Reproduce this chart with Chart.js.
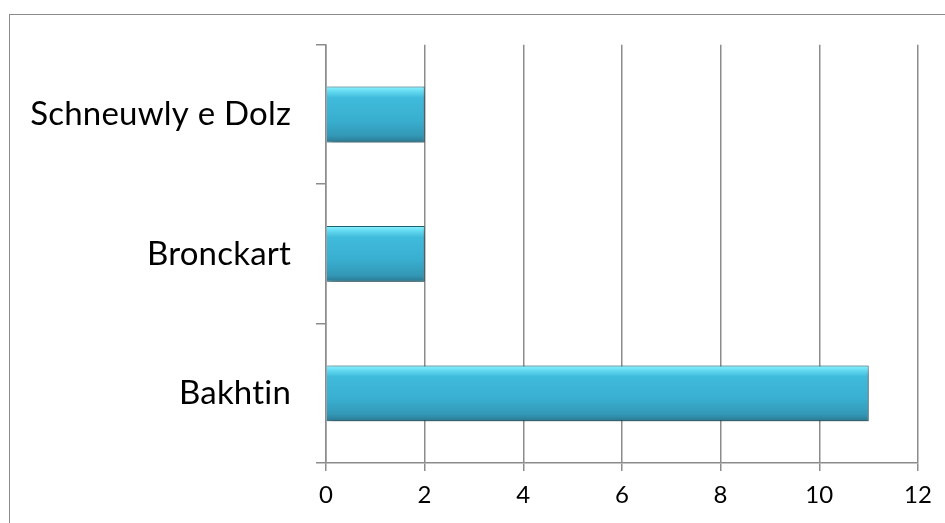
<!DOCTYPE html>
<html>
<head>
<meta charset="utf-8">
<script src="https://cdn.jsdelivr.net/npm/chart.js@4"></script>
<style>
  html, body { margin: 0; padding: 0; background: #fff; }
  #wrap { position: relative; width: 945px; height: 523px; overflow: hidden; }
  /* cadre du graphique, coupé à droite et en bas comme sur l'original */
  #frame { position: absolute; left: 9px; top: 14px; width: 1000px; height: 600px;
           border: 1.5px solid #8a8a8a; box-sizing: border-box; }
  canvas { position: absolute; left: 0; top: 0; }
</style>
</head>
<body>
<div id="wrap">
  <div id="frame"></div>
  <canvas id="barChart" width="945" height="523"></canvas>
</div>
<script>
/* ------------------------------------------------------------
   Données
------------------------------------------------------------ */
const categories = ['Schneuwly e Dolz', 'Bronckart', 'Bakhtin'];
const values     = [2, 2, 11];
const xTicks     = [0, 2, 4, 6, 8, 10, 12];

const GRID = '#8c8c8c';
const FONT = 'Lato, "Open Sans", sans-serif';

/* dégradé vertical par barre (effet biseauté) */
function barGradient(c) {
    const chart = c.chart;
    const y = chart.scales && chart.scales.y;
    if (!y || !chart.chartArea) return '#3ab2d2';
    const mid = y.getPixelForValue(c.dataIndex);
    const half = Math.abs(y.getPixelForValue(1) - y.getPixelForValue(0)) * 0.2;
    const g = chart.ctx.createLinearGradient(0, mid - half, 0, mid + half);
    g.addColorStop(0.00, '#8af4ff');
    g.addColorStop(0.08, '#66dcf3');
    g.addColorStop(0.20, '#40bbdb');
    g.addColorStop(0.60, '#39afd0');
    g.addColorStop(0.88, '#3398b6');
    g.addColorStop(1.00, '#2a7890');
    return g;
}

/* ombre portée sous les barres */
const shadowPlugin = {
    id: 'barShadow',
    beforeDraw(chart) {
        // pas de ligature « ti » de Lato
        chart.ctx.letterSpacing = '0.2px';
    },
    beforeDatasetDraw(chart) {
        const ctx = chart.ctx;
        ctx.save();
        ctx.shadowColor = 'rgba(0,0,0,0.45)';
        ctx.shadowBlur = 8;
        ctx.shadowOffsetX = 2;
        ctx.shadowOffsetY = 4;
    },
    afterDatasetDraw(chart) {
        chart.ctx.restore();
    }
};

new Chart(document.getElementById('barChart').getContext('2d'), {
    type: 'bar',
    data: {
        labels: categories,
        datasets: [{
            data: values,
            backgroundColor: barGradient,
            borderColor: '#1f6579',
            borderWidth: 1,
            barPercentage: 0.4,
            categoryPercentage: 1
        }]
    },
    options: {
        indexAxis: 'y',
        responsive: false,
        animation: false,
        events: [],
        layout: { padding: { left: 0, top: 43, right: 27, bottom: 0 } },
        plugins: {
            legend: { display: false },
            tooltip: { enabled: false }
        },
        scales: {
            x: {
                min: 0,
                max: 12,
                afterBuildTicks: s => { s.ticks = xTicks.map(v => ({ value: v })); },
                afterFit: s => { s.height = 60; },
                grid: { color: GRID, lineWidth: 1.5, tickLength: 8, drawTicks: true },
                border: { display: true, color: GRID, width: 1.5 },
                ticks: { color: '#000', padding: 10, font: { family: FONT, size: 24 } }
            },
            y: {
                afterFit: s => { s.width = 326; },
                grid: { color: GRID, lineWidth: 1.5, drawOnChartArea: false, tickLength: 10, offset: true },
                border: { display: true, color: GRID, width: 1.5 },
                ticks: { color: '#000', padding: 25, font: { family: FONT, size: 33 } }
            }
        }
    },
    plugins: [shadowPlugin]
});
</script>
</body>
</html>
